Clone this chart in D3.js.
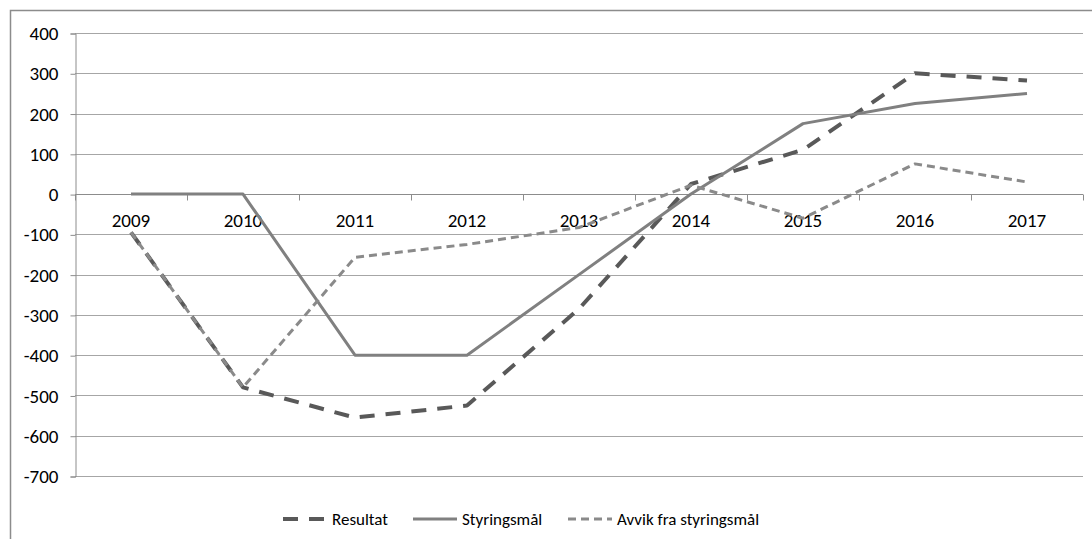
<!DOCTYPE html>
<html>
<head>
<meta charset="utf-8">
<script src="https://cdn.jsdelivr.net/npm/d3@7"></script>
<style>
  html, body { margin: 0; padding: 0; background: #fff; }
  svg { display: block; font-family: Carlito, Lato, "Open Sans", sans-serif; }
</style>
</head>
<body>
<svg id="chart" width="1092" height="539"></svg>
<script>
// Years on the category axis
const years = ["2009", "2010", "2011", "2012", "2013", "2014", "2015", "2016", "2017"];
// Series values
const resultat = [-95, -480, -555, -525, -285, 25, 110, 300, 282];
const styringsmaal = [0, 0, -400, -400, -200, 0, 175, 225, 250];
const avvik = [-95, -480, -157, -125, -83, 22, -60, 75, 30];
// Value axis ticks
const yTicks = [400, 300, 200, 100, 0, -100, -200, -300, -400, -500, -600, -700];

const series = [
  { name: "Resultat", values: resultat, color: "#595959", width: 4, dash: "15,11" },
  { name: "Styringsmål", values: styringsmaal, color: "#808080", width: 3, dash: null },
  { name: "Avvik fra styringsmål", values: avvik, color: "#8a8a8a", width: 3, dash: "8,5" }
];

const AXIS_FONT = 19;
const LEGEND_FONT = 17;
const svg = d3.select("#chart");
const plot = { left: 75, right: 1083, top: 33, bottom: 476 };

// Outer frame (top and left edges are visible inside the window)
svg.append("path")
  .attr("d", "M10.5,539 L10.5,10.5 L1092,10.5")
  .attr("fill", "none").attr("stroke", "#8c8c8c").attr("stroke-width", 1.5);

const x = d3.scaleBand().domain(years).range([plot.left, plot.right]).padding(0);
const y = d3.scaleLinear().domain([-700, 400]).range([plot.bottom, plot.top]);

// Horizontal gridlines
svg.append("g").selectAll("line").data(yTicks).join("line")
  .attr("x1", plot.left).attr("x2", plot.right)
  .attr("y1", d => Math.round(y(d)) + 0.5).attr("y2", d => Math.round(y(d)) + 0.5)
  .attr("stroke", "#a6a6a6").attr("stroke-width", 1);

// Value axis
const yAxis = d3.axisLeft(y).tickValues(yTicks).tickSize(5).tickPadding(12).tickFormat(d => String(d));
const gy = svg.append("g").attr("transform", `translate(${plot.left + 0.5},0.5)`).call(yAxis);
gy.select(".domain").attr("stroke", "#8c8c8c");
gy.selectAll(".tick line").attr("stroke", "#8c8c8c");
gy.selectAll(".tick text").attr("font-size", AXIS_FONT).attr("fill", "#000")
  .attr("font-family", "Carlito, Lato, 'Open Sans', sans-serif");

// Category axis at zero, with tick marks at category boundaries
const y0 = Math.round(y(0)) + 0.5;
const boundaries = years.map(d => x(d)).concat([plot.right]);
svg.append("g").selectAll("line").data(boundaries).join("line")
  .attr("x1", d => Math.round(d) + 0.5).attr("x2", d => Math.round(d) + 0.5)
  .attr("y1", y0).attr("y2", y0 + 6)
  .attr("stroke", "#8c8c8c");
svg.append("line").attr("x1", plot.left).attr("x2", plot.right)
  .attr("y1", y0).attr("y2", y0).attr("stroke", "#8c8c8c");
svg.append("g").selectAll("text").data(years).join("text")
  .attr("x", d => x(d) + x.bandwidth() / 2)
  .attr("y", y0 + 32)
  .attr("text-anchor", "middle").attr("font-size", AXIS_FONT).attr("fill", "#000")
  .text(d => d);

// Series lines
const line = d3.line()
  .x((d, i) => x(years[i]) + x.bandwidth() / 2)
  .y(d => y(d));

svg.append("g").selectAll("path").data(series).join("path")
  .attr("d", s => line(s.values))
  .attr("fill", "none")
  .attr("stroke", s => s.color)
  .attr("stroke-width", s => s.width)
  .attr("stroke-dasharray", s => s.dash)
  .attr("stroke-linejoin", "round");

// Legend
const legendItems = [
  { s: series[0], x: 283 },
  { s: series[1], x: 413 },
  { s: series[2], x: 568 }
];
const ly = 519;
const lg = svg.append("g");
legendItems.forEach(it => {
  lg.append("line")
    .attr("x1", it.x).attr("x2", it.x + 44)
    .attr("y1", ly).attr("y2", ly)
    .attr("stroke", it.s.color).attr("stroke-width", it.s.width)
    .attr("stroke-dasharray", it.s.dash);
  lg.append("text")
    .attr("x", it.x + 49).attr("y", ly + 6)
    .attr("font-size", LEGEND_FONT).attr("fill", "#000")
    .text(it.s.name);
});
</script>
</body>
</html>
